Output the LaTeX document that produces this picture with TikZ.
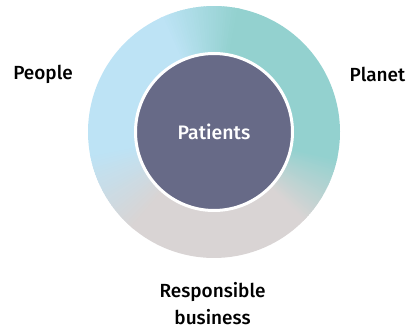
\documentclass[tikz,border=0pt]{standalone}
\usepackage{fontspec}
\setmainfont{Fira Sans}[UprightFont=* Medium]

\definecolor{ringblue}{RGB}{189,227,245}
\definecolor{ringteal}{RGB}{147,209,207}
\definecolor{ringgrey}{RGB}{217,212,212}
\definecolor{patientdark}{RGB}{103,106,135}

% one piece of the ring: start angle, end angle, colour
\newcommand{\ringpart}[3]{%
  \fill[#3] (#1:126) arc[start angle=#1, end angle=#2, radius=126]
    -- (#2:76) arc[start angle=#2, end angle=#1, radius=76] -- cycle;}

\begin{document}
\begin{tikzpicture}[x=1pt, y=1pt,
    sidelabel/.style={font=\fontsize{19}{27}\selectfont, text=black, align=center},
    hub/.style={circle, fill=patientdark, draw=white, line width=3pt,
      minimum size=157pt, inner sep=0pt, text=white,
      font=\fontsize{19.5}{22}\selectfont}]
    \useasboundingbox (0,0) rectangle (407,329);
    \coordinate (c) at (214,197);

    \begin{scope}[shift={(c)}]
        % flat parts
        \ringpart{-13}{79}{ringteal}
        \ringpart{114}{191}{ringblue}
        \ringpart{229}{316}{ringgrey}
        % blends
        \foreach \s/\e/\ca/\cb in {-45/-12/ringgrey/ringteal,
                                   78/115/ringteal/ringblue,
                                   190/230/ringblue/ringgrey} {
            \foreach \i in {0,...,29} {
                \pgfmathtruncatemacro\p{100*\i/29}
                \pgfmathsetmacro\a{\s+(\e-\s)*\i/30}
                \pgfmathsetmacro\b{\s+(\e-\s)*(\i+1)/30+0.6}
                \ringpart{\a}{\b}{\cb!\p!\ca}
            }
        }
    \end{scope}

    \node[hub] (patients) at (c) {Patients};

    \node[sidelabel] (people) at (43,255) {People};
    \node[sidelabel] (planet) at (377.5,255) {Planet};
    \node[sidelabel] (business) at (212.5,25) {Responsible\\business};
\end{tikzpicture}
\end{document}
